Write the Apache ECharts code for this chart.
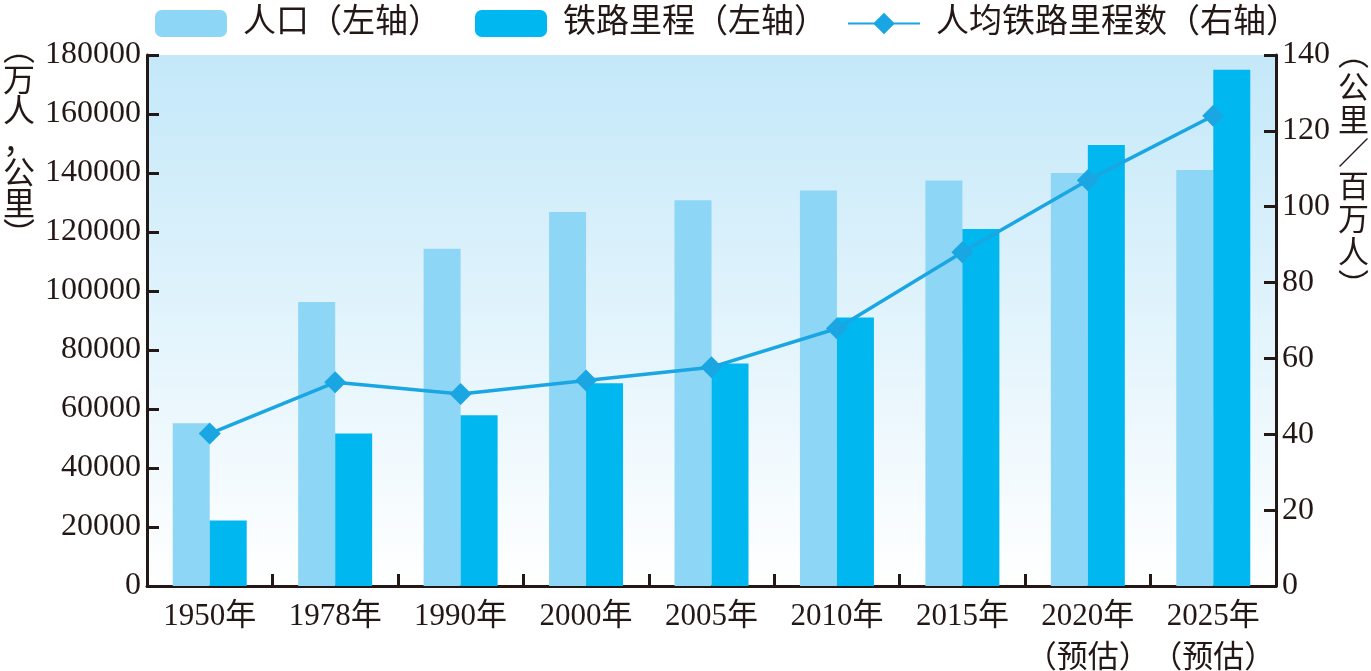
<!DOCTYPE html>
<html><head><meta charset="utf-8">
<script src="https://cdn.jsdelivr.net/npm/echarts@6/dist/echarts.min.js"></script>
<style>html,body{margin:0;padding:0;background:#fff}#c{width:1371px;height:671px}</style>
</head><body><div id="c"></div>
<script>
const categories = ['1950年','1978年','1990年','2000年','2005年','2010年','2015年','2020年\n（预估）','2025年\n（预估）'];
const population = [55196, 96259, 114333, 126743, 130756, 134091, 137462, 140000, 141000];
const railway = [22200, 51700, 57900, 68700, 75400, 91000, 121000, 149500, 175000];
const perCapita = [40.2, 53.7, 50.6, 54.2, 57.7, 67.9, 88.0, 107.0, 124.0];
const leftTicks = {min: 0, max: 180000, interval: 20000};
const rightTicks = {min: 0, max: 140, interval: 20};
const seriesNames = ['人口（左轴）', '铁路里程（左轴）', '人均铁路里程数（右轴）'];

const FONT = '"Liberation Serif", "Noto Sans CJK SC", serif';
const INK = '#231815';
const G = {left: 147, right: 95, top: 55, bottom: 85};
const chart = echarts.init(document.getElementById('c'));
function legendOf(name, left) {
  return {data: [name], left: left, top: 2, itemWidth: 72, itemHeight: 27,
    textStyle: {fontFamily: FONT, fontSize: 33, color: INK, padding: [0, 0, 0, 11]}};
}
function yAxisOf(t, pos) {
  return {type: 'value', position: pos, min: t.min, max: t.max, interval: t.interval,
    splitLine: {show: false},
    axisLine: {show: true, lineStyle: {color: INK, width: 3}},
    axisTick: {show: true, inside: true, length: 12, lineStyle: {color: INK, width: 3}},
    axisLabel: {fontFamily: FONT, fontSize: 32, color: INK, margin: 6, formatter: v => String(v)}};
}
chart.setOption({
  animation: false,
  backgroundColor: '#fff',
  grid: {left: G.left, right: G.right, top: G.top, bottom: G.bottom, show: false,
    outerBoundsMode: 'none', containLabel: false},
  legend: [legendOf(seriesNames[0], 150), legendOf(seriesNames[1], 470), legendOf(seriesNames[2], 842)],
  xAxis: {type: 'category', data: categories,
    axisLine: {lineStyle: {color: INK, width: 3}},
    axisTick: {show: true, inside: true, length: 12, lineStyle: {color: INK, width: 3}},
    axisLabel: {fontFamily: FONT, fontSize: 31, color: INK, margin: 10, lineHeight: 42, interval: 0}},
  yAxis: [yAxisOf(leftTicks, 'left'), yAxisOf(rightTicks, 'right')],
  series: [
    {name: seriesNames[0], type: 'bar', data: population, barWidth: 37, barGap: '0%',
     itemStyle: {color: '#8ed6f6'}},
    {name: seriesNames[1], type: 'bar', data: railway, barWidth: 37, barGap: '0%',
     itemStyle: {color: '#00b8ef'}},
    {name: seriesNames[2], type: 'line', yAxisIndex: 1, data: perCapita,
     symbol: 'diamond', symbolSize: 22, z: 5,
     lineStyle: {color: '#19a6e3', width: 3.5}, itemStyle: {color: '#19a6e3'}}
  ],
  graphic: [
    {type: 'rect', z: -10, silent: true,
     shape: {x: G.left, y: G.top, width: 1371 - G.left - G.right, height: 671 - G.top - G.bottom},
     style: {fill: new echarts.graphic.LinearGradient(0, 0, 0, 1, [
       {offset: 0, color: '#c4e8f9'}, {offset: 1, color: '#ffffff'}])}},
    {type: 'text', left: 3, top: 36, style: {text: '︵\n万\n人\n，\n公\n里\n︶', font: '32px ' + FONT, fill: INK, lineHeight: 31}},
    {type: 'text', left: 1338, top: 40, style: {text: '︵\n公\n里\n／\n百\n万\n人\n︶', font: '31px ' + FONT, fill: INK, lineHeight: 33}}
  ]
});
</script></body></html>
